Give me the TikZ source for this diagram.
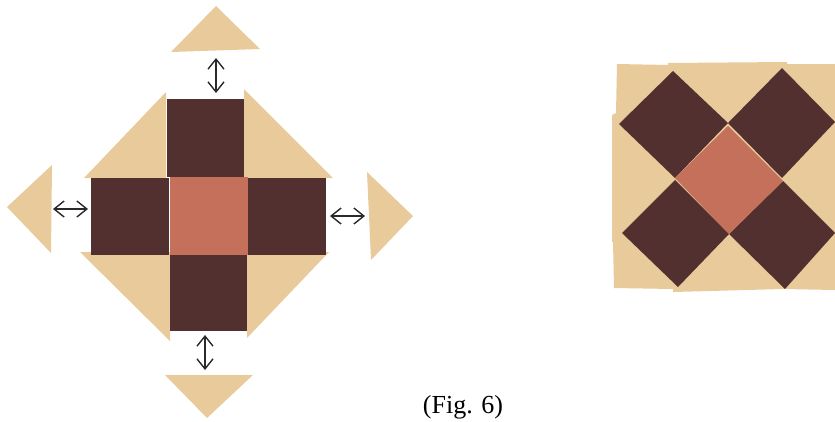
\documentclass[tikz,border=0pt]{standalone}
\usepackage{fontspec}
\setmainfont{Liberation Serif}
\usetikzlibrary{arrows.meta}
\definecolor{qtTan}{HTML}{E8CA9B}
\definecolor{qtDark}{HTML}{533030}
\definecolor{qtRose}{HTML}{C4705B}
\definecolor{qtInk}{HTML}{2A2A2A}
\tikzset{
  qt tan/.style={fill=qtTan},
  qt dark/.style={fill=qtDark},
  qt centre/.style={fill=qtRose},
  qt arrow/.style={{Straight Barb[length=10pt,width=16pt]}-{Straight Barb[length=10pt,width=16pt]},
    draw=qtInk, line width=1.4pt},
  qt caption/.style={font=\fontsize{26}{30}\selectfont, text=black, inner sep=0pt}
}
\begin{document}
\begin{tikzpicture}[x=1pt,y=-1pt]
\useasboundingbox (0,0) rectangle (835,421);
% pulled-apart block
\fill[qt tan] (166,92) -- (84,178) -- (166,178) -- cycle;
\fill[qt tan] (244,89) -- (333,178) -- (244,178) -- cycle;
\fill[qt tan] (80,252) -- (170,341) -- (170,252) -- cycle;
\fill[qt tan] (329,252) -- (247,338) -- (247,252) -- cycle;
\fill[qt dark] (167,99) rectangle (244,177);
\fill[qt dark] (91,178) rectangle (169,255);
\fill[qt dark] (248,178) rectangle (326,255);
\fill[qt dark] (170,255) rectangle (247,331);
\fill[qt centre] (170,177) rectangle (247.5,255);
% outer corners
\fill[qt tan] (216,6) -- (260,49) -- (171,52) -- cycle;
\fill[qt tan] (7,207) -- (52,165) -- (51,253) -- cycle;
\fill[qt tan] (413,216) -- (367,172) -- (371,260) -- cycle;
\fill[qt tan] (207,418) -- (165,375) -- (253,375) -- cycle;
% arrows
\coordinate (upA) at (216,58);
\coordinate (upB) at (216,93);
\coordinate (leftA) at (53,209);
\coordinate (leftB) at (88,209);
\coordinate (rightA) at (330,216);
\coordinate (rightB) at (365,216);
\coordinate (downA) at (205,335);
\coordinate (downB) at (205,370);
\draw[qt arrow] (upA) -- (upB);
\draw[qt arrow] (leftA) -- (leftB);
\draw[qt arrow] (rightA) -- (rightB);
\draw[qt arrow] (downA) -- (downB);
% finished block
\fill[qt tan] (617,64) -- (668,65) -- (668,63) -- (787,62) -- (787,64) -- (835,64)
  -- (835,290) -- (783,289) -- (673,292) -- (673,289) -- (614,288) -- (613,242)
  -- (612,242) -- (612,115) -- (616,113) -- cycle;
\fill[qt dark] (673,71) -- (728,123) -- (675,178) -- (619,124) -- cycle;
\fill[qt dark] (782,68) -- (835,122) -- (782,178) -- (728,123) -- cycle;
\fill[qt dark] (675,180) -- (729,234) -- (678,287) -- (622,233) -- cycle;
\fill[qt dark] (783,181) -- (835,233) -- (785,289) -- (729,234) -- cycle;
\fill[qt centre] (728,126) -- (783,181) -- (729,234) -- (675,178) -- cycle;
\node[qt caption, anchor=base] (caption) at (463,413) {(Fig. 6)};
\end{tikzpicture}
\end{document}
